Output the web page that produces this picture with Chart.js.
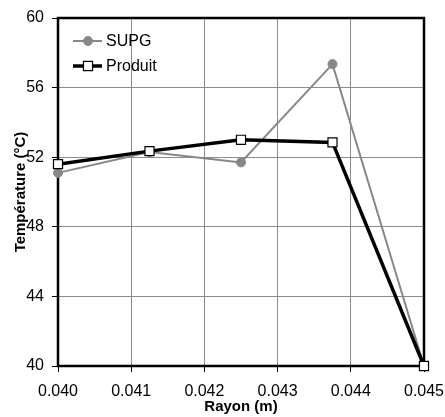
<!DOCTYPE html>
<html>
<head>
<meta charset="utf-8">
<script src="https://cdn.jsdelivr.net/npm/chart.js@4"></script>
<style>
  html, body { margin: 0; padding: 0; background: #fff; }
  #wrap { width: 445px; height: 417px; }
</style>
</head>
<body>
<div id="wrap"><canvas id="chart"></canvas></div>
<script>
const rayon = [0.040, 0.04125, 0.0425, 0.04375, 0.045];
const supg = [51.1, 52.3, 51.7, 57.35, 40.0];
const produit = [51.6, 52.35, 53.0, 52.85, 40.0];

const toPoints = (xs, ys) => xs.map((x, i) => ({ x: x, y: ys[i] }));

// black frame round the plot, drawn before the lines
const frame = {
  id: "frame",
  beforeDatasetsDraw(c) {
    const a = c.chartArea;
    const ctx = c.ctx;
    ctx.save();
    ctx.strokeStyle = "#000";
    ctx.lineWidth = 2.5;
    ctx.strokeRect(a.left, a.top, a.right - a.left, a.bottom - a.top);
    ctx.restore();
  }
};

// legend inside the plot: line + marker + label
const insideLegend = {
  id: "insideLegend",
  afterDraw(c) {
    const ctx = c.ctx;
    const rows = [41, 66];
    ctx.save();
    c.data.datasets.forEach((ds, i) => {
      const y = rows[i];
      ctx.strokeStyle = ds.borderColor;
      ctx.lineWidth = ds.borderWidth;
      ctx.beginPath();
      ctx.moveTo(73, y);
      ctx.lineTo(102, y);
      ctx.stroke();
      ctx.fillStyle = ds.pointBackgroundColor;
      ctx.strokeStyle = ds.pointBorderColor;
      ctx.lineWidth = ds.pointBorderWidth;
      ctx.beginPath();
      if (ds.pointStyle === "rect") {
        const s = ds.pointRadius * Math.SQRT1_2;
        ctx.rect(88 - s, y - s, 2 * s, 2 * s);
      } else {
        ctx.arc(88, y, ds.pointRadius, 0, Math.PI * 2);
      }
      ctx.fill();
      ctx.stroke();
      ctx.fillStyle = "#000";
      ctx.font = "16px 'Liberation Sans', Arial, sans-serif";
      ctx.textBaseline = "middle";
      ctx.fillText(ds.label, 106, y + 1);
    });
    ctx.restore();
  }
};

const tickFont = { family: "'Liberation Sans', Arial, sans-serif", size: 16 };
const titleFont = { family: "'Liberation Sans', Arial, sans-serif", size: 15, weight: "bold" };

new Chart(document.getElementById("chart"), {
  type: "line",
  plugins: [frame, insideLegend],
  data: {
    datasets: [
      {
        label: "SUPG",
        data: toPoints(rayon, supg),
        borderColor: "#878787",
        borderWidth: 2,
        pointStyle: "circle",
        pointRadius: 4.5,
        pointBackgroundColor: "#878787",
        pointBorderColor: "#878787",
        pointBorderWidth: 1,
        clip: false,
        order: 2
      },
      {
        label: "Produit",
        data: toPoints(rayon, produit),
        borderColor: "#000",
        borderWidth: 3.5,
        pointStyle: "rect",
        pointRadius: 6.4,
        pointBackgroundColor: "#fff",
        pointBorderColor: "#000",
        pointBorderWidth: 1.2,
        clip: false,
        order: 1
      }
    ]
  },
  options: {
    responsive: true,
    maintainAspectRatio: false,
    animation: false,
    events: [],
    layout: { padding: { top: 18, right: 21, left: 0, bottom: 0 } },
    plugins: {
      legend: { display: false },
      tooltip: { enabled: false }
    },
    scales: {
      x: {
        type: "linear",
        min: 0.040,
        max: 0.045,
        afterFit(s) {
          s.height = 51;
          s.paddingLeft = 0;
          s.paddingRight = 0;
        },
        ticks: {
          stepSize: 0.001,
          padding: 10,
          color: "#000",
          font: tickFont,
          callback: v => v.toFixed(3)
        },
        grid: { color: "#8c8c8c", tickColor: "#000", tickLength: 6, lineWidth: 1 },
        border: { display: false },
        title: {
          display: true,
          text: "Rayon (m)",
          color: "#000",
          padding: { top: 0, bottom: 1 },
          font: titleFont
        }
      },
      y: {
        min: 40,
        max: 60,
        afterFit(s) {
          s.width = 58;
          s.paddingTop = 0;
          s.paddingBottom = 0;
        },
        ticks: {
          stepSize: 4,
          padding: 8,
          color: "#000",
          font: tickFont
        },
        grid: { color: "#8c8c8c", tickColor: "#000", tickLength: 6, lineWidth: 1 },
        border: { display: false },
        title: {
          display: true,
          text: "Température (°C)",
          color: "#000",
          padding: { top: 12, bottom: 0 },
          font: titleFont
        }
      }
    }
  }
});
</script>
</body>
</html>
